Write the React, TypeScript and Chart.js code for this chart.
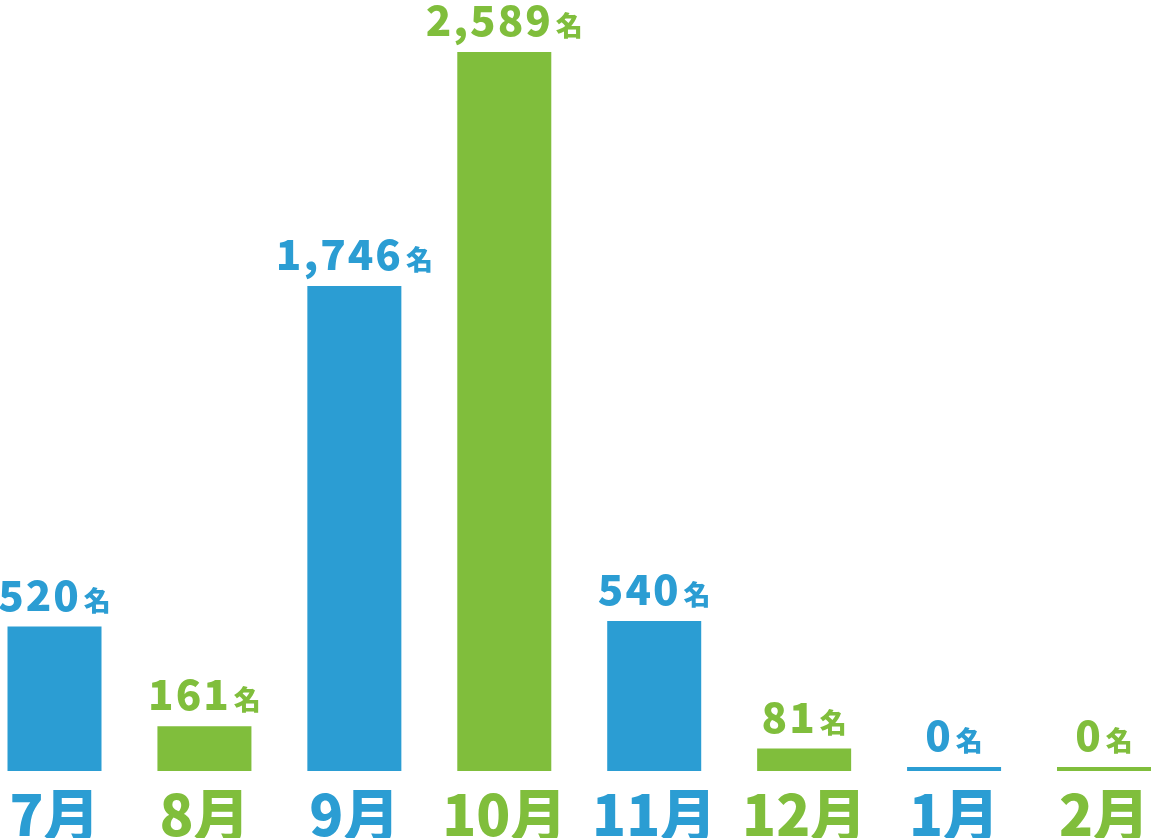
import React, { useEffect, useRef } from "react";
import { Chart, registerables } from "chart.js";

Chart.register(...registerables);

const months = ["7月", "8月", "9月", "10月", "11月", "12月", "1月", "2月"];
const counts = [520, 161, 1746, 2589, 540, 81, 0, 0];
const unit = "名";
const BLUE = "#2b9dd3";
const GREEN = "#80be3c";
const barColors = [BLUE, GREEN, BLUE, GREEN, BLUE, GREEN, BLUE, GREEN];

const FONT = '"Noto Sans CJK JP", "Noto Sans", sans-serif';

const valueLabels = {
  id: "valueLabels",
  afterDatasetsDraw(chart: any) {
    const ctx = chart.ctx;
    const meta = chart.getDatasetMeta(0);
    ctx.save();
    ctx.textBaseline = "alphabetic";
    ctx.textAlign = "left";
    meta.data.forEach((bar: any, i: number) => {
      const num = counts[i].toLocaleString("en-US");
      (ctx as any).letterSpacing = "2px";
      ctx.font = `900 42px ${FONT}`;
      const wNum = ctx.measureText(num).width;
      (ctx as any).letterSpacing = "0px";
      ctx.font = `900 27px ${FONT}`;
      const wUnit = ctx.measureText(unit).width;
      const gap = 3;
      const total = wNum + gap + wUnit;
      const x0 = bar.x - total / 2;
      const y = bar.y - 16;
      ctx.fillStyle = barColors[i];
      (ctx as any).letterSpacing = "2px";
      ctx.font = `900 42px ${FONT}`;
      ctx.fillText(num, x0, y);
      (ctx as any).letterSpacing = "0px";
      ctx.font = `900 27px ${FONT}`;
      ctx.fillText(unit, x0 + wNum + gap, y);
    });
    ctx.restore();
  },
};

export default function App() {
  const ref = useRef<HTMLCanvasElement | null>(null);
  useEffect(() => {
    if (!ref.current) return;
    const chart = new Chart(ref.current, {
      type: "bar",
      data: {
        labels: months,
        datasets: [
          {
            data: counts,
            backgroundColor: barColors,
            borderWidth: 0,
            minBarLength: 4,
            barPercentage: 1,
            categoryPercentage: 0.627,
            clip: false as any,
          },
        ],
      },
      options: {
        animation: false,
        responsive: true,
        maintainAspectRatio: false,
        layout: { padding: { left: 54.5, right: 48, top: 0, bottom: 0 } },
        plugins: { legend: { display: false }, tooltip: { enabled: false } },
        scales: {
          x: {
            offset: false,
            grid: { display: false, drawTicks: false },
            border: { display: false },
            ticks: {
              padding: 10,
              maxRotation: 0,
              autoSkip: false,
              color: (c: any) => barColors[c.index],
              font: { family: FONT, size: 56, weight: "900" as any },
            },
            afterFit: (s: any) => {
              s.height = 67;
              s.paddingLeft = 0;
              s.paddingRight = 0;
            },
          },
          y: { display: false, min: 0, max: 2776 },
        },
      },
      plugins: [valueLabels],
    });
    return () => chart.destroy();
  }, []);
  return (
    <div style={{ position: "absolute", left: 0, top: 0, width: 1152, height: 838, background: "#fff" }}>
      <canvas ref={ref} />
    </div>
  );
}
